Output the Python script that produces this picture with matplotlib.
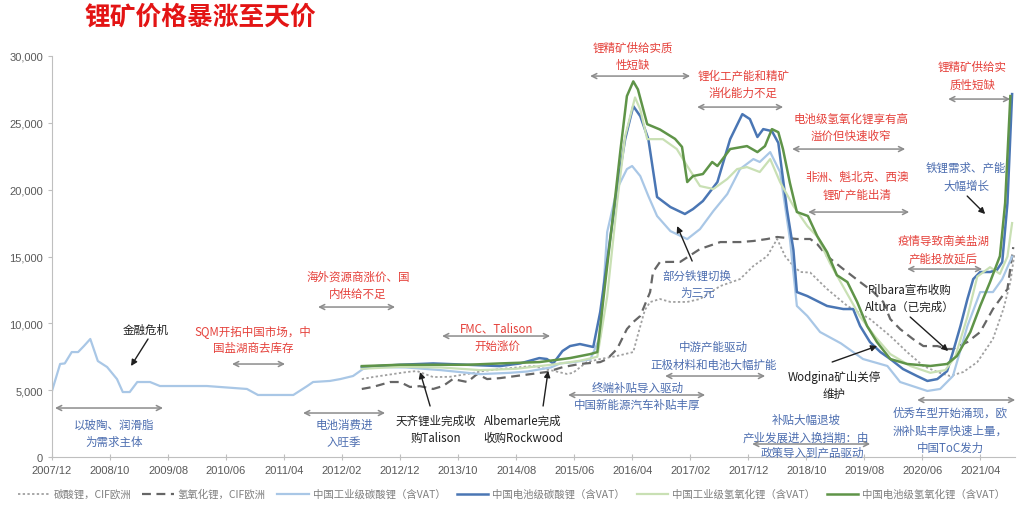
import matplotlib
matplotlib.use('Agg')
import matplotlib.pyplot as plt
from matplotlib.ticker import FuncFormatter

plt.rcParams['font.family'] = ['Noto Sans CJK SC', 'DejaVu Sans']

# 月份序号：0 = 2007/12
tick_pos = [0, 10, 20, 30, 40, 50, 60, 70, 80, 90, 100, 110, 120, 130, 140, 150, 160]
tick_labels = ['2007/12', '2008/10', '2009/08', '2010/06', '2011/04', '2012/02', '2012/12',
               '2013/10', '2014/08', '2015/06', '2016/04', '2017/02', '2017/12', '2018/10',
               '2019/08', '2020/06', '2021/04']

# 碳酸锂，CIF欧洲
dc_m = [53.4, 55.3, 61.2, 62.9, 65.7, 68.6, 71.6, 74.3, 77.2, 82.9, 85.9, 88.8, 89.8, 92.2, 94.5,
        97.4, 100.2, 100.9, 102.2, 103.1, 104.8, 106.6, 109.5, 111.7, 115.2, 118.6, 120.9, 123.3,
        125.0, 126.4, 127.8, 129.0, 130.7, 133.6, 137.1, 141.0, 144.5, 147.4, 150.2, 152.6, 154.8,
        157.1, 159.5, 162.2, 164.0, 165.2, 165.9]
dc_v = [5830, 5980, 6360, 6430, 5980, 6000, 6210, 6430, 6580, 6810, 6500, 6210, 6300, 7100, 7330,
        7560, 7850, 9000, 11000, 11590, 11820, 11600, 11600, 11820, 12790, 13310, 14290, 15030,
        16310, 15000, 14290, 13840, 13800, 12570, 11300, 10320, 9050, 7850, 6810, 6360, 6060,
        6360, 7100, 8830, 11070, 13090, 15200]

# 氢氧化锂，CIF欧洲
dh_m = [53.4, 55.3, 58.3, 60.0, 61.7, 63.4, 65.7, 67.4, 69.1, 71.6, 73.3, 75.0, 77.2, 80.7, 85.3,
        88.1, 91.0, 94.5, 95.7, 97.4, 99.1, 100.2, 101.4, 103.1, 103.6, 104.8, 108.3, 111.7, 115.2,
        118.6, 120.9, 123.3, 125.0, 128.4, 130.7, 131.9, 133.6, 136.4, 139.3, 141.6, 143.3, 144.5,
        146.2, 148.4, 150.2, 152.6, 154.3, 155.3, 157.8, 160.0, 162.2, 164.7, 165.7]
dh_v = [5090, 5240, 5610, 5610, 5240, 5300, 5090, 5310, 5830, 5610, 6210, 5830, 5900, 6100, 6360,
        6730, 6960, 7100, 7330, 8080, 9570, 10100, 10550, 12340, 13840, 14590, 14600, 15560, 16080,
        16080, 16160, 16310, 16460, 16310, 16310, 15930, 15030, 14060, 13090, 12340, 11590, 10320,
        9570, 8830, 8300, 8300, 8080, 8080, 8600, 9350, 11070, 12570, 15700]

# 中国工业级碳酸锂（含VAT）
lb_m = [0, 1.4, 2.2, 3.4, 4.5, 5.5, 6.6, 7.9, 9.5, 11.2, 12.2, 13.4, 14.7, 16.9, 18.6, 26.7, 33.6,
        35.5, 41.6, 44.0, 45.0, 47.9, 49.7, 51.9, 53.6, 55.3, 61.0, 67.0, 73.8, 79.0, 82.0, 86.0,
        87.6, 90.0, 92.8, 94.5, 95.7, 97.4, 99.1, 100.0, 101.4, 102.8, 104.3, 106.6, 109.5, 111.7,
        114.0, 116.4, 118.6, 120.9, 122.0, 123.8, 125.5, 127.2, 128.4, 130.2, 132.4, 136.0, 139.8,
        144.0, 146.2, 150.9, 153.1, 155.3, 157.8, 160.0, 162.2, 163.8, 165.5]
lb_v = [4940, 6960, 7000, 7850, 7850, 8300, 8830, 7180, 6730, 5830, 4860, 4860, 5610, 5610, 5310,
        5310, 5090, 4640, 4640, 5310, 5610, 5690, 5830, 6060, 6580, 6730, 6700, 6500, 6200, 6300,
        6400, 6700, 7000, 7100, 7300, 9000, 16830, 20050, 21540, 21770, 21020, 19520, 18030, 16900,
        16300, 17050, 18400, 19670, 21540, 22290, 22070, 22810, 21320, 16300, 11300, 10550, 9350,
        8500, 7330, 6810, 5610, 4940, 5090, 6060, 9800, 12340, 12340, 13310, 15000]

# 中国电池级碳酸锂（含VAT）
b_m = [53.4, 60.0, 65.7, 71.6, 77.2, 80.7, 84.0, 85.3, 86.4, 88.0, 89.3, 91.0, 93.3, 94.5, 96.2,
       97.6, 98.8, 100.2, 101.4, 102.8, 104.3, 106.6, 109.1, 110.5, 112.2, 114.7, 116.9, 119.0,
       120.3, 121.6, 122.6, 124.1, 125.2, 126.7, 127.8, 128.4, 130.2, 133.6, 136.4, 138.1, 139.3,
       141.0, 142.8, 144.5, 146.7, 149.1, 150.9, 152.6, 154.3, 155.3, 156.6, 157.8, 158.8, 160.0,
       161.7, 162.9, 163.8, 164.7, 165.5]
b_v = [6730, 6900, 7000, 6900, 6800, 7000, 7400, 7330, 7000, 7930, 8300, 8450, 8230, 10850, 16300,
       20570, 23780, 26250, 25500, 23780, 19450, 18700, 18180, 18550, 19150, 20570, 23780, 25650,
       25280, 23940, 24530, 24380, 23500, 18500, 15500, 12340, 12040, 11300, 11070, 11070, 9800,
       8600, 7850, 7330, 6580, 6060, 5690, 5830, 6430, 7850, 9800, 11820, 13310, 13840, 13840,
       14000, 14590, 19000, 27150]

# 中国工业级氢氧化锂（含VAT）
lg_m = [53.4, 60.0, 67.0, 73.8, 80.0, 86.0, 91.0, 94.0, 95.7, 97.4, 98.8, 100.5, 101.4, 102.6,
        105.3, 107.7, 109.5, 111.7, 114.0, 116.4, 118.1, 119.8, 122.0, 123.8, 125.5, 127.8, 130.2,
        131.9, 134.1, 136.7, 139.3, 141.9, 144.5, 148.0, 151.4, 154.0, 155.7, 157.8, 159.5, 161.7,
        163.4, 164.7, 165.5]
lg_v = [6600, 6750, 6700, 6500, 6600, 6900, 7200, 7500, 12000, 19000, 24000, 26900, 26000, 23780,
        23780, 23040, 21770, 20270, 20050, 20800, 21540, 21690, 21320, 22290, 20570, 18780, 17280,
        16500, 14500, 12500, 10500, 9000, 7700, 6800, 6300, 6500, 7500, 10500, 13500, 14200,
        13700, 15000, 17500]

# 中国电池级氢氧化锂（含VAT）
g_m = [53.4, 60.0, 71.6, 77.2, 84.0, 89.3, 92.8, 94.0, 95.7, 97.1, 98.0, 99.1, 100.2, 101.0,
       102.6, 104.8, 107.4, 108.6, 109.5, 110.5, 112.2, 113.8, 114.7, 116.9, 119.8, 121.6, 122.9,
       124.1, 125.2, 126.0, 127.2, 128.4, 130.3, 131.9, 133.6, 135.3, 137.1, 138.8, 140.5, 142.2,
       144.5, 147.4, 151.4, 154.3, 156.0, 158.3, 160.0, 161.7, 163.4, 164.3, 165.2]
g_v = [6800, 6900, 6900, 7000, 7100, 7400, 7700, 7850, 14290, 19520, 23000, 27000, 28100, 27500,
       24900, 24500, 23800, 23200, 20570, 21020, 21170, 22070, 21770, 23040, 23260, 22810, 23260,
       24530, 24300, 23040, 20500, 18330, 18030, 16530, 15330, 13600, 13090, 11590, 9800, 8600,
       7330, 6960, 6810, 6960, 7560, 9350, 11300, 13090, 15030, 19000, 27000]

RED = '#e5413b'
BLUE = '#4d6eb0'
DARK = '#1f1f1f'
GRAY = '#8c8c8c'

fig = plt.figure(figsize=(10.23, 5.10), dpi=100)
ax = fig.add_axes([52 / 1023, 52 / 510, 963 / 1023, 401 / 510])

ax.plot(dc_m, dc_v, color='#a0a0a0', lw=1.3, ls=(0, (1.3, 1.3)), label='碳酸锂，CIF欧洲')
ax.plot(dh_m, dh_v, color='#666666', lw=1.6, ls=(0, (4, 2.5)), label='氢氧化锂，CIF欧洲')
ax.plot(lb_m, lb_v, color='#a9c7e6', lw=1.6, label='中国工业级碳酸锂（含VAT）')
ax.plot(b_m, b_v, color='#4a76b4', lw=1.8, label='中国电池级碳酸锂（含VAT）')
ax.plot(lg_m, lg_v, color='#c9e0b4', lw=1.6, label='中国工业级氢氧化锂（含VAT）')
ax.plot(g_m, g_v, color='#5f9448', lw=1.8, label='中国电池级氢氧化锂（含VAT）')

ax.set_xlim(0, 166)
ax.set_ylim(0, 30000)
ax.set_xticks(tick_pos)
ax.set_xticklabels(tick_labels)
ax.set_yticks(range(0, 30001, 5000))
ax.yaxis.set_major_formatter(FuncFormatter(lambda v, p: f'{int(v):,}'))
for s in ['top', 'right']:
    ax.spines[s].set_visible(False)
for s in ['left', 'bottom']:
    ax.spines[s].set_color('#bfbfbf')
ax.tick_params(axis='both', colors='#bfbfbf', labelcolor='#595959', labelsize=8)
ax.tick_params(axis='x', direction='inout', length=5)
ax.tick_params(axis='y', direction='out', length=3)
for lab in ax.get_xticklabels() + ax.get_yticklabels():
    lab.set_family('Liberation Sans')


def px(x, y):
    # 图片像素 -> 数据坐标
    return ((x - 52) / 5.8, (458 - y) * 74.8)


notes = [
    ('金融危机', 146, 330, DARK),
    ('SQM开拓中国市场，中\n国盐湖商去库存', 253, 340, RED),
    ('海外资源商涨价、国\n内供给不足', 358, 286, RED),
    ('以玻陶、润滑脂\n为需求主体', 114, 434, BLUE),
    ('电池消费进\n入旺季', 344, 434, BLUE),
    ('天齐锂业完成收\n购Talison', 436, 430, DARK),
    ('Albemarle完成\n收购Rockwood', 523, 430, DARK),
    ('FMC、Talison\n开始涨价', 497, 338, RED),
    ('部分铁锂切换\n为三元', 697, 285, BLUE),
    ('中游产能驱动\n正极材料和电池大幅扩能', 713, 356, BLUE),
    ('锂精矿供给实质\n性短缺', 633, 57, RED),
    ('锂化工产能和精矿\n消化能力不足', 743, 85, RED),
    ('电池级氢氧化锂享有高\n溢价但快速收窄', 851, 128, RED),
    ('非洲、魁北克、西澳\n锂矿产能出清', 857, 186, RED),
    ('锂精矿供给实\n质性短缺', 972, 76, RED),
    ('铁锂需求、产能\n大幅增长', 966, 177, BLUE),
    ('疫情导致南美盐湖\n产能投放延后', 943, 250, RED),
    ('Pilbara宣布收购\nAltura（已完成）', 910, 299, DARK),
    ('Wodgina矿山关停\n维护', 834, 386, DARK),
    ('优秀车型开始涌现，欧\n洲补贴丰厚快速上量，\n中国ToC发力', 950, 431, BLUE),
]
for txt, x, y, c in notes:
    ax.text(*px(x, y), txt, ha='center', va='center', color=c, fontsize=8.3,
            linespacing=1.45)

# 两行文字中间夹着箭头的注释
ax.text(*px(638, 388), '终端补贴导入驱动', ha='center', va='center', color=BLUE, fontsize=8.3)
ax.text(*px(637, 405), '中国新能源汽车补贴丰厚', ha='center', va='center', color=BLUE, fontsize=8.3)
ax.text(*px(806, 429), '补贴大幅退坡\n产业发展进入换挡期：由', ha='center', va='center',
        color=BLUE, fontsize=8.3, linespacing=1.45)
ax.text(*px(812, 453), '政策导入到产品驱动', ha='center', va='center', color=BLUE, fontsize=8.3)

spans = [
    (232, 285, 365), (318, 395, 308), (55, 163, 409), (303, 385, 414),
    (442, 550, 337), (568, 705, 396), (665, 765, 377), (590, 690, 77),
    (697, 783, 108), (792, 905, 150), (808, 909, 213), (948, 1010, 100),
    (907, 982, 270), (752, 870, 445), (917, 1015, 401),
]
for x1, x2, y in spans:
    ax.annotate('', xy=px(x2, y), xytext=px(x1, y),
                arrowprops=dict(arrowstyle='<->', color=GRAY, lw=1.1, mutation_scale=9,
                                shrinkA=0, shrinkB=0))

pointers = [
    (148, 340, 131, 367), (430, 407, 420, 373), (543, 407, 548, 372),
    (692, 262, 677, 227), (967, 197, 985, 215), (910, 318, 948, 352),
    (832, 363, 877, 347),
]
for x1, y1, x2, y2 in pointers:
    ax.annotate('', xy=px(x2, y2), xytext=px(x1, y1),
                arrowprops=dict(arrowstyle='-|>', color=DARK, lw=1.0, mutation_scale=9,
                                shrinkA=0, shrinkB=0))

fig.text(85 / 1023, 1 - 17 / 510, '锂矿价格暴涨至天价', color='#e31414', fontsize=18.5,
         fontweight='bold', va='center', ha='left')

leg = fig.legend(loc='center', bbox_to_anchor=(0.5, 1 - 495 / 510), ncol=6, frameon=False,
                 fontsize=7.5, handlelength=3.0, columnspacing=1.1, handletextpad=0.4)
for t in leg.get_texts():
    t.set_color('#7f7f7f')

fig.savefig('out.png', dpi=100)
